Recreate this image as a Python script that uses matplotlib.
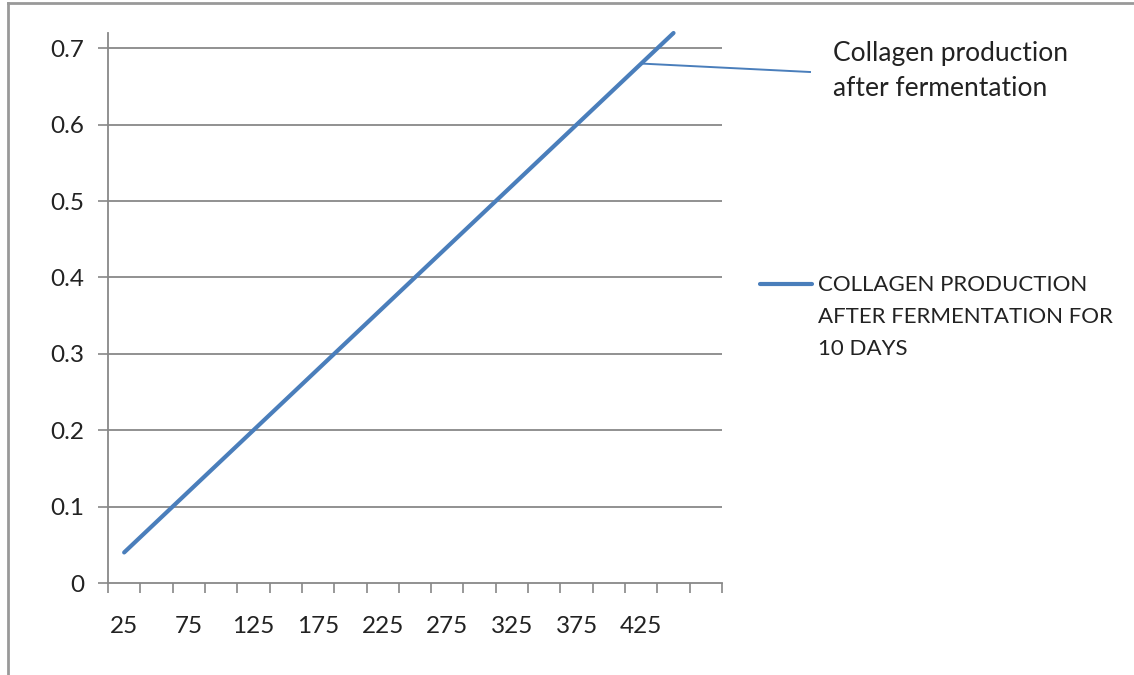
import numpy as np
import matplotlib
matplotlib.use("Agg")
import matplotlib.pyplot as plt
from matplotlib.lines import Line2D

plt.rcParams['font.family'] = ['Lato', 'DejaVu Sans']

# x categories and collagen readings
categories = ['25', '50', '75', '100', '125', '150', '175', '200', '225', '250',
              '275', '300', '325', '350', '375', '400', '425', '450', '']
collagen = [0.04, 0.08, 0.12, 0.16, 0.20, 0.24, 0.28, 0.32, 0.36, 0.40,
            0.44, 0.48, 0.52, 0.56, 0.60, 0.64, 0.68, 0.72, np.nan]
series_name = 'COLLAGEN PRODUCTION\nAFTER FERMENTATION FOR\n10 DAYS'
note_text = 'Collagen production\nafter fermentation'
yticks = [0, 0.1, 0.2, 0.3, 0.4, 0.5, 0.6, 0.7]

line_col = '#4A7EBB'
grid_col = '#888888'
txt_col = '#222222'
W, H = 1134, 675

fig = plt.figure(figsize=(11.34, 6.75), dpi=100)
ax = fig.add_axes([108/W, 1-583/H, (722-108)/W, (583-33)/H])

pos = np.arange(1, len(categories)+1)
ax.plot(pos, collagen, color=line_col, lw=3.0, solid_capstyle='round', clip_on=False)

ax.set_xlim(0.5, len(categories)+0.5)
ax.set_ylim(0, 0.72)
ax.set_yticks(yticks)
ax.set_yticklabels([('%g' % v) for v in yticks])
for v in yticks[1:]:
    ax.axhline(v, color=grid_col, lw=1.3, zorder=0)

# tick marks between categories, labels on every other category
ax.set_xticks(np.arange(0.5, len(categories)+1, 1.0))
ax.set_xticklabels([])
ax.set_xticks(pos[::2], minor=True)
ax.set_xticklabels(categories[::2], minor=True)
ax.tick_params(axis='x', which='major', length=7, width=1.2, color=grid_col, direction='out')
ax.tick_params(axis='x', which='minor', length=0, pad=24, labelsize=17.5, labelcolor=txt_col)
ax.tick_params(axis='y', length=7, width=1.2, color=grid_col, pad=10,
               labelsize=17.5, labelcolor=txt_col)

for s in ['top', 'right']:
    ax.spines[s].set_visible(False)
for s in ['left', 'bottom']:
    ax.spines[s].set_color(grid_col)
    ax.spines[s].set_linewidth(1.3)

# callout: line from the 425 point over to the note
p0 = fig.transFigure.inverted().transform(ax.transData.transform((17, collagen[16])))
fig.add_artist(Line2D([p0[0], 810/W], [p0[1], 1-72/H], color=line_col, lw=1.4))
fig.text(833/W, 1-71/H, note_text, ha='left', va='center', fontsize=19,
         color=txt_col, linespacing=1.5)

# legend drawn by hand so the key sits on the first text line
fig.add_artist(Line2D([760/W, 812/W], [1-284/H, 1-284/H], color=line_col, lw=3.0,
                      solid_capstyle='round'))
fig.text(818/W, 1-317/H, series_name, ha='left', va='center', fontsize=16,
         color=txt_col, linespacing=1.78)

# chart frame
fig.add_artist(Line2D([8/W, 1], [1-3/H, 1-3/H], color='#999999', lw=2))
fig.add_artist(Line2D([8/W, 8/W], [0, 1-3/H], color='#999999', lw=2))

fig.savefig('out.png', dpi=100)
